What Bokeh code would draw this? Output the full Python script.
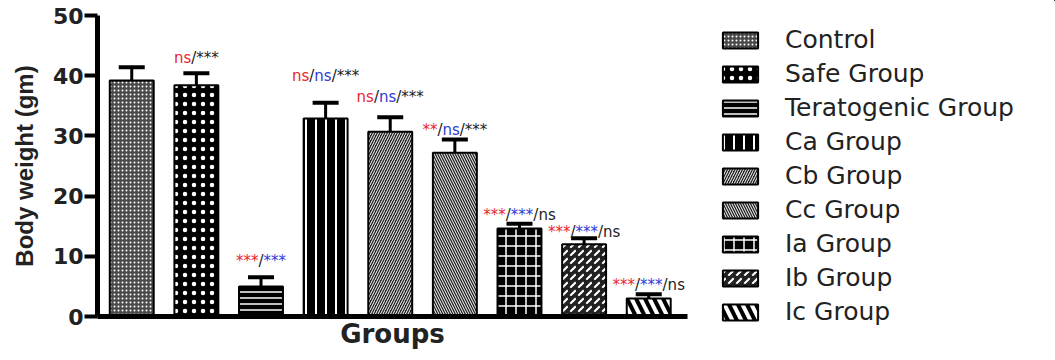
from bokeh.plotting import figure
from bokeh.layouts import row
from bokeh.models import Range1d, FixedTicker, Whisker, ColumnDataSource, Legend, LegendItem, TeeHead
from bokeh.embed import file_html
from bokeh.resources import INLINE

groups = ["Control", "Safe Group", "Teratogenic Group", "Ca Group", "Cb Group",
          "Cc Group", "Ia Group", "Ib Group", "Ic Group"]
means = [39.2, 38.4, 5.0, 32.9, 30.7, 27.2, 14.6, 12.0, 3.0]
errors = [2.2, 2.0, 1.5, 2.6, 2.4, 2.2, 0.8, 1.0, 0.7]
y_ticks = [0, 10, 20, 30, 40, 50]

annotations = ["", "ns/***", "***/***", "ns/ns/***", "ns/ns/***", "**/ns/***",
               "***/***/ns", "***/***/ns", "***/***/ns"]
annotation_y = [0, 43.0, 9.3, 40.0, 36.4, 30.9, 16.8, 14.0, 5.3]

RED = "#e8262e"
BLUE = "#2f3bd6"
DARK = "#222222"
seg_colors = {2: [RED, BLUE], 3: [RED, BLUE, DARK]}
FONT = "DejaVu Sans"

# hatch styles per group
styles = [
    dict(fill_color="#4a4a4a", hatch_pattern="dot", hatch_color="white", hatch_scale=4, hatch_weight=2),
    dict(fill_color="black", hatch_pattern="dot", hatch_color="white", hatch_scale=9, hatch_weight=6),
    dict(fill_color="black", hatch_pattern="horizontal_line", hatch_color="white", hatch_scale=6, hatch_weight=1.5),
    dict(fill_color="black", hatch_pattern="vertical_line", hatch_color="white", hatch_scale=10, hatch_weight=2),
    dict(fill_color="#222222", hatch_pattern="right_diagonal_line", hatch_color="white", hatch_scale=5, hatch_weight=1),
    dict(fill_color="#222222", hatch_pattern="left_diagonal_line", hatch_color="white", hatch_scale=5, hatch_weight=1),
    dict(fill_color="black", hatch_pattern="cross", hatch_color="white", hatch_scale=10, hatch_weight=1.5),
    dict(fill_color="#222222", hatch_pattern="right_diagonal_dash", hatch_color="white", hatch_scale=8, hatch_weight=2),
    dict(fill_color="black", hatch_pattern="left_diagonal_line", hatch_color="white", hatch_scale=18, hatch_weight=4),
]

xs = list(range(1, len(groups) + 1))

p = figure(width=693, height=360,
           x_range=Range1d(0.47, 9.6), y_range=Range1d(0, 50),
           output_backend="svg", toolbar_location=None,
           min_border_left=97, min_border_top=15, min_border_bottom=44, min_border_right=6)
p.outline_line_color = None
p.xgrid.visible = False
p.ygrid.visible = False
p.background_fill_color = "white"

for i, g in enumerate(groups):
    p.vbar(x=[xs[i]], top=[means[i]], width=0.68, line_color="black", line_width=2, **styles[i])

upper = [m + e for m, e in zip(means, errors)]
src = ColumnDataSource(dict(x=xs, lower=means, upper=upper))
w = Whisker(base="x", upper="upper", lower="lower", source=src, line_color="black", line_width=3,
            upper_head=TeeHead(size=26, line_width=4, line_color="black"), lower_head=None, dimension="height")
p.add_layout(w)

# multi-colored annotations (DejaVu Sans advance widths)
char_w = {"n": 0.634, "s": 0.521, "/": 0.337, "*": 0.5}
fs = 15
tx, ty, tt, tc, toff = [], [], [], [], []
for i, a in enumerate(annotations):
    if not a:
        continue
    parts = a.split("/")
    if i == 1:
        cols = [RED, DARK]
    else:
        cols = seg_colors[len(parts)]
    pieces = []
    for k, part in enumerate(parts):
        pieces.append((part, cols[k]))
        if k < len(parts) - 1:
            pieces.append(("/", DARK))
    widths = [sum(char_w[c] for c in s) * fs for s, _ in pieces]
    total = sum(widths)
    off = -total / 2
    for (s, c), wd in zip(pieces, widths):
        tx.append(xs[i]); ty.append(annotation_y[i]); tt.append(s); tc.append(c); toff.append(off)
        off += wd
tsrc = ColumnDataSource(dict(x=tx, y=ty, text=tt, color=tc, off=toff))
p.text(x="x", y="y", text="text", text_color="color", x_offset="off", source=tsrc,
       text_font_size=f"{fs}px", text_align="left", text_baseline="middle",
       text_font={"value": FONT})

# axes
p.yaxis.ticker = FixedTicker(ticks=y_ticks)
p.yaxis.axis_line_width = 5
p.yaxis.major_tick_line_width = 4
p.yaxis.major_tick_out = 13
p.yaxis.major_tick_in = 0
p.yaxis.minor_tick_line_color = None
p.yaxis.major_label_text_font = FONT
p.yaxis.major_label_text_font_style = "bold"
p.yaxis.major_label_text_font_size = "22px"
p.yaxis.major_label_text_color = "#222222"
p.yaxis.major_label_standoff = 1
p.yaxis.axis_label = "Body weight (gm)"
p.yaxis.axis_label_text_font = "Liberation Sans"
p.yaxis.axis_label_text_font_style = "bold"
p.yaxis.axis_label_text_font_size = "24px"
p.yaxis.axis_label_text_color = "#222222"
p.yaxis.axis_label_standoff = 12

p.xaxis.ticker = FixedTicker(ticks=[])
p.xaxis.axis_line_width = 5
p.xaxis.major_tick_line_color = None
p.xaxis.minor_tick_line_color = None
p.xaxis.major_label_text_font_size = "0px"
p.xaxis.axis_label = "Groups"
p.xaxis.axis_label_text_font = FONT
p.xaxis.axis_label_text_font_style = "bold"
p.xaxis.axis_label_text_font_size = "26px"
p.xaxis.axis_label_text_color = "#222222"
p.xaxis.axis_label_standoff = 2

# legend panel: a separate figure whose (out-of-view) bars carry the same styles
q = figure(width=1055 - 693, height=360, x_range=Range1d(-20, -19), y_range=Range1d(-20, -19),
           output_backend="svg", toolbar_location=None, x_axis_type=None, y_axis_type=None,
           min_border=0)
q.frame_align = False
q.outline_line_color = None
q.xgrid.visible = False
q.ygrid.visible = False
items = []
for i, g in enumerate(groups):
    r = q.vbar(x=[xs[i]], top=[means[i]], width=0.68, line_color="black", line_width=2, **styles[i])
    items.append(LegendItem(label=g, renderers=[r]))
legend = Legend(items=items, location=(25, 34), margin=0, padding=0, spacing=5,
                glyph_width=44, glyph_height=20, label_height=20, label_standoff=23,
                label_text_font=FONT, label_text_font_size="25px",
                label_text_color="#222222", border_line_color=None, background_fill_alpha=0)
q.add_layout(legend)

open("out.html", "w").write(file_html(row(p, q), INLINE))
